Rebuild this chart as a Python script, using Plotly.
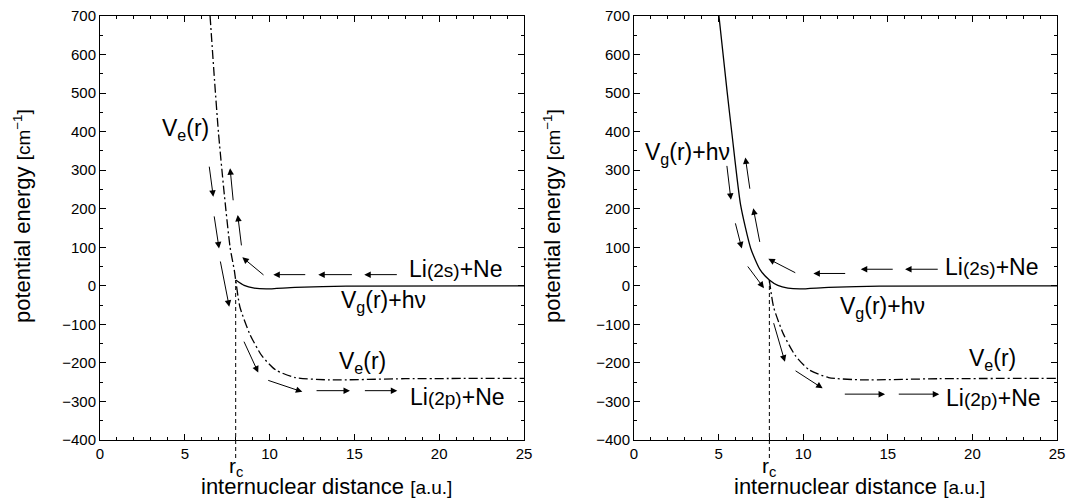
import plotly.graph_objects as go

# ---------------- data ----------------
R_C = 8.0          # crossing distance r_c [a.u.]
E_C = 15.0         # energy at the crossing [cm^-1]

# V_e(r) (dash-dot) points
ve_r = [6.49, 6.75, 6.98, 7.3, 7.67, 7.92, 8.0, 8.25, 8.84, 9.55, 10.35, 11.5, 13.5, 18.0, 25.0]
ve_E = [700, 535, 400, 250, 100, 40, 15, -55, -126, -182, -218, -238, -244, -241, -240]

# V_g(r)+hv (solid) points
vg_r = [5.02, 5.5, 5.8, 6.3, 6.9, 7.45, 8.0, 8.5, 9.1, 9.8, 11.5, 14.5, 25.0]
vg_E = [700, 505, 390, 210, 97, 42, 15, 1, -6, -8, -4, -1, 0]

# arrows: tail (r, E) -> head (r, E)
left_tail_r = [6.43, 6.72, 7.08, 7.86, 8.35, 9.73, 12.19, 14.94, 17.59, 8.45, 9.83, 12.68, 15.53]
left_tail_E = [313, 184, 67, 218, 101, 25, 29, 29, 29, -141, -244, -272, -272]
left_head_r = [6.68, 7.02, 7.62, 7.67, 8.12, 8.39, 10.22, 12.87, 15.58, 9.33, 11.93, 14.74, 17.53]
left_head_E = [231, 97, -54, 305, 184, 74, 29, 29, 29, -225, -275, -272, -272]

right_tail_r = [5.48, 5.97, 6.66, 6.86, 7.45, 9.62, 12.57, 15.38, 18.04, 8.23, 9.46, 12.37, 15.56]
right_tail_E = [315, 166, 54, 248, 110, 32, 32, 43, 43, -93, -218, -281, -281]
right_head_r = [5.73, 6.37, 7.68, 6.58, 7.05, 7.94, 10.60, 13.40, 16.02, 8.92, 11.15, 14.84, 18.04]
right_head_E = [223, 97, -6, 333, 201, 70, 32, 43, 43, -197, -266, -281, -281]

# text labels
SMALL = "<span style='font-size:19px'>{}</span>"
left_labels = ["V<sub>e</sub>(r)", "Li" + SMALL.format("(2s)") + "+Ne", "V<sub>g</sub>(r)+hν",
               "V<sub>e</sub>(r)", "Li" + SMALL.format("(2p)") + "+Ne"]
left_label_r = [5.07, 18.08, 16.7, 15.45, 18.14]
left_label_E = [405, 44, -40, -200, -288]
left_label_anchor = ["center", "left", "center", "center", "left"]

right_labels = ["V<sub>g</sub>(r)+hν", "Li" + SMALL.format("(2s)") + "+Ne", "V<sub>g</sub>(r)+hν",
                "V<sub>e</sub>(r)", "Li" + SMALL.format("(2p)") + "+Ne"]
right_label_r = [0.53, 18.26, 14.7, 21.2, 18.32]
right_label_E = [342, 50, -55, -190, -291]
right_label_anchor = ["left", "left", "center", "center", "left"]

X_RANGE = [0, 25]
Y_RANGE = [-400, 700]
X_TICKS = [0, 5, 10, 15, 20, 25]
Y_TICKS = list(range(-400, 701, 100))

# ---------------- figure ----------------
FONT = "Liberation Sans, Arial, Helvetica, sans-serif"
W, H = 1068, 501
XDOM1 = [100 / W, 524 / W]
XDOM2 = [634 / W, 1057 / W]
YDOM = [(H - 440) / H, (H - 16) / H]

fig = go.Figure()

line_style = dict(color="black", width=1.3)
dashdot = dict(color="black", width=1.3, dash="9px,3px,2px,3px")

# left panel: V_e full, V_g from r_c onwards
fig.add_trace(go.Scatter(x=ve_r, y=ve_E, mode="lines", line=dict(dashdot, shape="spline", smoothing=0.6),
                         xaxis="x", yaxis="y", showlegend=False, hoverinfo="skip"))
vg_l = [(r, e) for r, e in zip(vg_r, vg_E) if r >= R_C]
fig.add_trace(go.Scatter(x=[p[0] for p in vg_l], y=[p[1] for p in vg_l], mode="lines",
                         line=dict(line_style, shape="spline", smoothing=0.6),
                         xaxis="x", yaxis="y", showlegend=False, hoverinfo="skip"))
# right panel: V_g full, V_e from r_c onwards
fig.add_trace(go.Scatter(x=vg_r, y=vg_E, mode="lines", line=dict(line_style, shape="spline", smoothing=0.6),
                         xaxis="x2", yaxis="y2", showlegend=False, hoverinfo="skip"))
ve_rr = [(r, e) for r, e in zip(ve_r, ve_E) if r >= R_C]
fig.add_trace(go.Scatter(x=[p[0] for p in ve_rr], y=[p[1] for p in ve_rr], mode="lines",
                         line=dict(dashdot, shape="spline", smoothing=0.6),
                         xaxis="x2", yaxis="y2", showlegend=False, hoverinfo="skip"))

# vertical dashed line at r_c (from crossing down past the axis)
def e_to_paper(e):
    return YDOM[0] + (e - Y_RANGE[0]) / (Y_RANGE[1] - Y_RANGE[0]) * (YDOM[1] - YDOM[0])

for xr in ["x", "x2"]:
    fig.add_shape(type="line", xref=xr, yref="paper", x0=R_C, x1=R_C,
                  y0=(H - 458) / H, y1=e_to_paper(E_C),
                  line=dict(color="black", width=1, dash="4px,3px"))

annotations = []
for tr, te, hr, he in zip(left_tail_r, left_tail_E, left_head_r, left_head_E):
    annotations.append(dict(x=hr, y=he, ax=tr, ay=te, xref="x", yref="y", axref="x", ayref="y",
                            text="", showarrow=True, arrowhead=2, arrowsize=1.3, arrowwidth=1,
                            arrowcolor="black", standoff=0))
for tr, te, hr, he in zip(right_tail_r, right_tail_E, right_head_r, right_head_E):
    annotations.append(dict(x=hr, y=he, ax=tr, ay=te, xref="x2", yref="y2", axref="x2", ayref="y2",
                            text="", showarrow=True, arrowhead=2, arrowsize=1.3, arrowwidth=1,
                            arrowcolor="black", standoff=0))

for t, r, e, a in zip(left_labels, left_label_r, left_label_E, left_label_anchor):
    annotations.append(dict(x=r, y=e, xref="x", yref="y", text=t, showarrow=False,
                            xanchor=a, yanchor="middle", font=dict(family=FONT, size=23, color="black")))
for t, r, e, a in zip(right_labels, right_label_r, right_label_E, right_label_anchor):
    annotations.append(dict(x=r, y=e, xref="x2", yref="y2", text=t, showarrow=False,
                            xanchor=a, yanchor="middle", font=dict(family=FONT, size=23, color="black")))

# axis titles and r_c labels
ytitle = "potential energy <span style='font-size:19px'>[cm<sup>−1</sup>]</span>"
xtitle = "internuclear distance <span style='font-size:19px'>[a.u.]</span>"
for xp in [23 / W, 553 / W]:
    annotations.append(dict(x=xp, y=(H - 216) / H, xref="paper", yref="paper", text=ytitle,
                            textangle=-90, showarrow=False, xanchor="center", yanchor="middle",
                            font=dict(family=FONT, size=22, color="black")))
for xp in [326 / W, 859 / W]:
    annotations.append(dict(x=xp, y=(H - 486) / H, xref="paper", yref="paper", text=xtitle,
                            showarrow=False, xanchor="center", yanchor="middle",
                            font=dict(family=FONT, size=22, color="black")))
for xr in ["x", "x2"]:
    annotations.append(dict(x=R_C, y=(H - 467) / H, xref=xr, yref="paper", text="r<sub>c</sub>",
                            showarrow=False, xanchor="center", yanchor="middle",
                            font=dict(family=FONT, size=21, color="black")))

axis_common = dict(showline=True, linecolor="black", linewidth=1, mirror="allticks",
                   ticks="inside", ticklen=6, tickwidth=1, tickcolor="black",
                   showgrid=False, zeroline=False, automargin=False,
                   tickfont=dict(family=FONT, size=15, color="black"))

xaxis_cfg = dict(axis_common, range=X_RANGE, tickvals=X_TICKS,
                 minor=dict(dtick=1, ticks="inside", ticklen=3, tickcolor="black", showgrid=False))
yaxis_cfg = dict(axis_common, range=Y_RANGE, tickvals=Y_TICKS,
                 minor=dict(dtick=50, ticks="inside", ticklen=3, tickcolor="black", showgrid=False))

fig.update_layout(
    width=W, height=H, autosize=False,
    margin=dict(l=0, r=0, t=0, b=0, pad=0, autoexpand=False),
    paper_bgcolor="white", plot_bgcolor="white",
    font=dict(family=FONT, color="black"),
    xaxis=dict(xaxis_cfg, domain=XDOM1, anchor="y"),
    yaxis=dict(yaxis_cfg, domain=YDOM, anchor="x"),
    xaxis2=dict(xaxis_cfg, domain=XDOM2, anchor="y2"),
    yaxis2=dict(yaxis_cfg, domain=YDOM, anchor="x2"),
    annotations=annotations,
    showlegend=False,
)

fig.write_html("out.html", config={"displayModeBar": False, "staticPlot": True},
               post_script="document.body.style.margin='0';document.body.style.overflow='hidden';")
